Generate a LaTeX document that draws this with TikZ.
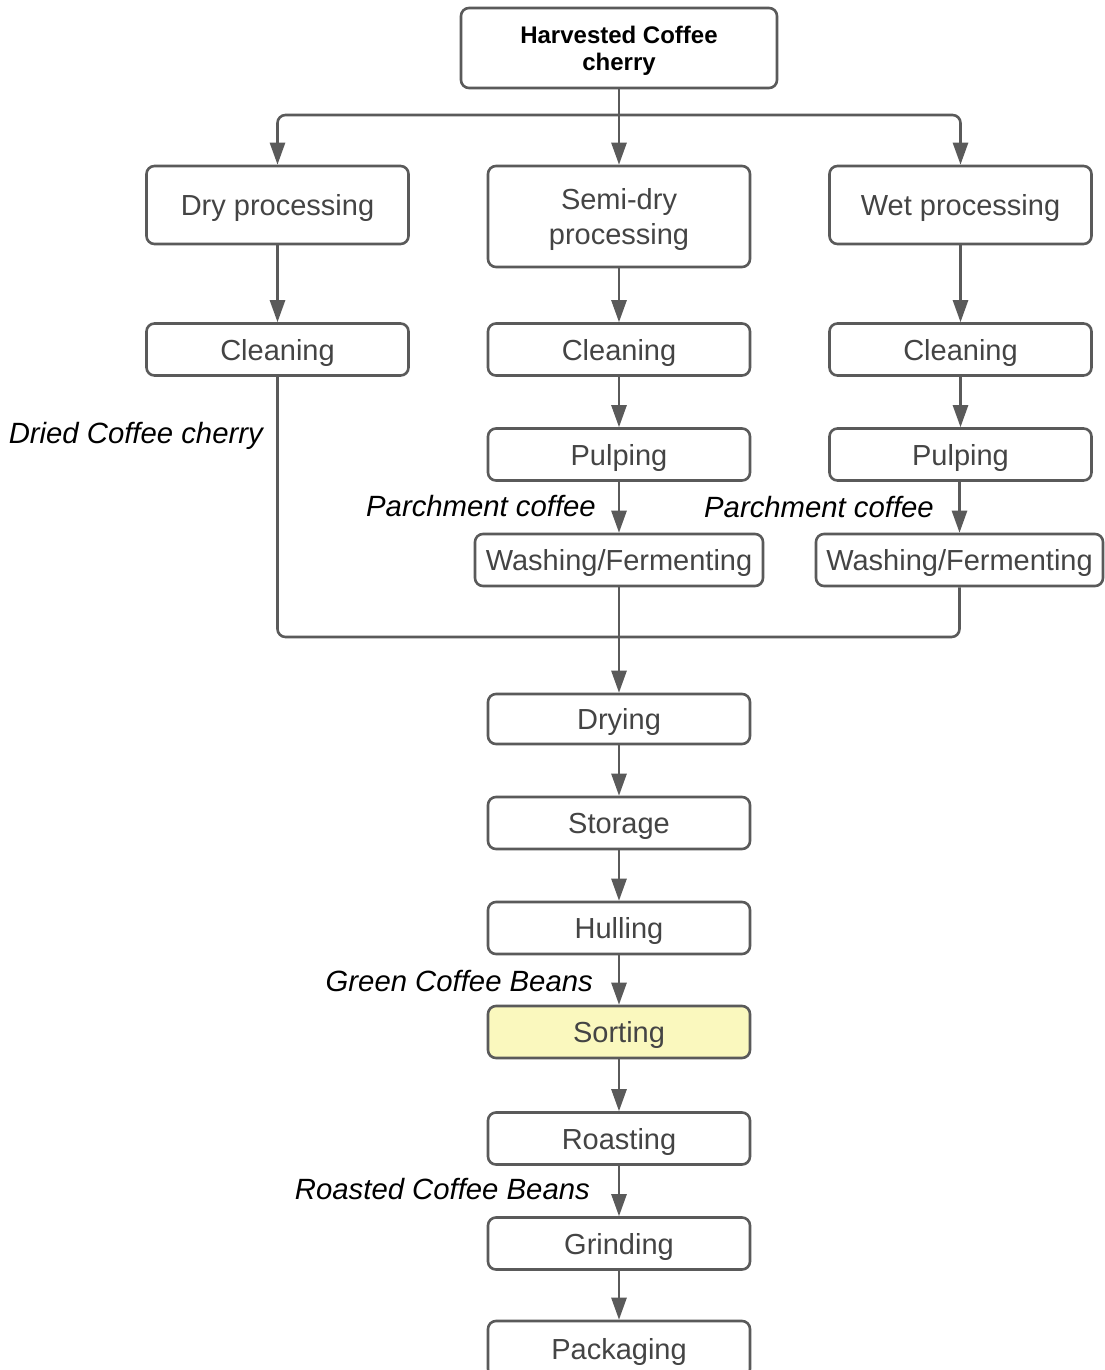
\documentclass[tikz,border=0pt]{standalone}
\usepackage{fontspec}
\setmainfont{Liberation Sans}
\usetikzlibrary{arrows.meta}
\definecolor{linegray}{HTML}{5A5A5A}
\definecolor{textgray}{HTML}{444444}
\definecolor{sortfill}{HTML}{FAF8BE}
\begin{document}
\begin{tikzpicture}[x=1pt,y=-1pt,
  box/.style={draw=linegray, line width=2.6pt, rounded corners=8pt, fill=white,
    align=center, text=textgray, font=\fontsize{29}{35}\selectfont,
    inner sep=0pt, text depth=0pt, minimum width=262pt, minimum height=52pt},
  topbox/.style={box, minimum width=316pt, minimum height=80pt, text=black,
    font=\fontsize{24}{27}\selectfont\bfseries},
  lbl/.style={font=\fontsize{29.3}{33}\selectfont\itshape, text=black, inner sep=0pt, anchor=east},
  conn/.style={draw=linegray, line width=2.6pt, rounded corners=8pt},
  arr/.style={conn, -{Triangle[width=15pt,length=22pt]}}]
\useasboundingbox (0,0) rectangle (1104,1370);
\fill[white] (0,0) rectangle (1104,1370);

\node[topbox] (top) at (619,48) {Harvested Coffee\\cherry};
\node[box, minimum height=78pt] (dry) at (277.5,205) {Dry processing};
\node[box, minimum height=101pt] (semi) at (619,216.5) {Semi-dry\\processing};
\node[box, minimum height=78pt] (wet) at (960.5,205) {Wet processing};

\node[box] (c1) at (277.5,349.5) {Cleaning};
\node[box] (c2) at (619,349.5) {Cleaning};
\node[box] (c3) at (960.5,349.5) {Cleaning};

\node[box] (p2) at (619,454.5) {Pulping};
\node[box] (p3) at (960.5,454.5) {Pulping};

\node[box, minimum width=288pt] (w2) at (619,560) {Washing/Fermenting};
\node[box, minimum width=287pt] (w3) at (959.5,560) {Washing/Fermenting};

\node[box, minimum height=50pt] (drying) at (619,719) {Drying};
\node[box] (storage) at (619,823) {Storage};
\node[box] (hulling) at (619,928) {Hulling};
\node[box, fill=sortfill] (sorting) at (619,1032) {Sorting};
\node[box] (roasting) at (619,1138.5) {Roasting};
\node[box] (grinding) at (619,1243.5) {Grinding};
\node[box, minimum height=56pt] (packaging) at (619,1349) {Packaging};

% labels
\node[lbl] (l1) at (263,436) {Dried Coffee cherry};
\node[lbl] (l2) at (596,506) {Parchment coffee};
\node[lbl] (l3) at (934,507) {Parchment coffee};
\node[lbl] (l4) at (593,981) {Green Coffee Beans};
\node[lbl] (l5) at (590,1189) {Roasted Coffee Beans};

% top split
\coordinate (split) at (619,115);
\draw[arr] (top.south) -- (semi.north);
\draw[arr] (split) -| (dry.north);
\draw[arr] (split) -| (wet.north);

% columns
\draw[arr] (dry.south) -- (c1.north);
\draw[arr] (semi.south) -- (c2.north);
\draw[arr] (wet.south) -- (c3.north);
\draw[arr] (c2.south) -- (p2.north);
\draw[arr] (c3.south) -- (p3.north);
\draw[arr] (p2.south) -- (w2.north);
\draw[arr] (p3.south -| w3.north) -- (w3.north);

% merge
\coordinate (merge) at (619,637);
\draw[conn] (c1.south) |- (merge);
\draw[conn] (w3.south) |- (merge);
\draw[arr] (w2.south) -- (drying.north);

% main chain
\draw[arr] (drying.south) -- (storage.north);
\draw[arr] (storage.south) -- (hulling.north);
\draw[arr] (hulling.south) -- (sorting.north);
\draw[arr] (sorting.south) -- (roasting.north);
\draw[arr] (roasting.south) -- (grinding.north);
\draw[arr] (grinding.south) -- (packaging.north);
\end{tikzpicture}
\end{document}
